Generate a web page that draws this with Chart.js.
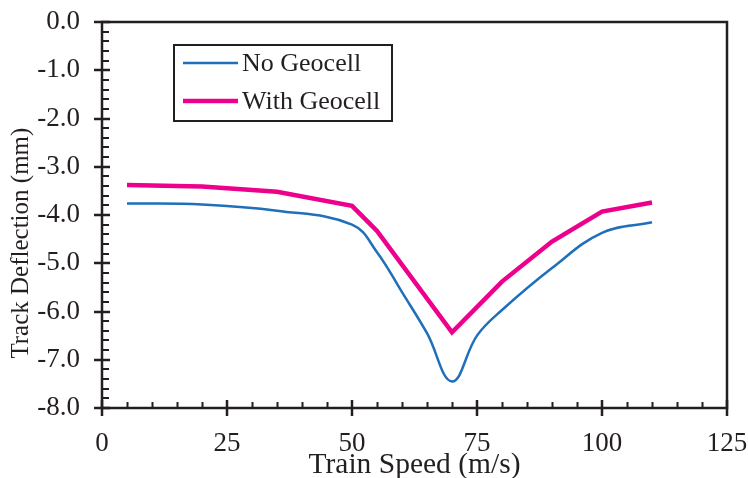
<!DOCTYPE html>
<html>
<head>
<meta charset="utf-8">
<script src="https://cdn.jsdelivr.net/npm/chart.js@4.4.0/dist/chart.umd.min.js"></script>
<style>
  html, body { margin: 0; padding: 0; background: #fff; }
  #wrap { width: 748px; height: 478px; }
</style>
</head>
<body>
<div id="wrap"><canvas id="grafico"></canvas></div>
<script>
// Dados
var nomeSem = "No Geocell";
var nomeCom = "With Geocell";
var velSem = [5, 20, 35, 50, 55, 60, 65, 70, 75, 80, 90, 100, 110];
var deflSem = [-3.76, -3.78, -3.91, -4.2, -4.77, -5.6, -6.45, -7.45, -6.5, -5.97, -5.1, -4.37, -4.15];
var velCom = [5, 20, 35, 50, 55, 70, 80, 90, 100, 110];
var deflCom = [-3.38, -3.41, -3.52, -3.81, -4.33, -6.43, -5.38, -4.55, -3.93, -3.74];
var xTicks = [0, 25, 50, 75, 100, 125];
var yTicks = [0, -1, -2, -3, -4, -5, -6, -7, -8];

var corSem = "#1f6fba";
var corCom = "#ec008c";
var corTexto = "#231f20";
var fonte = "'Liberation Serif', 'Times New Roman', serif";

function pares(xs, ys) {
	return xs.map(function (x, i) { return { x: x, y: ys[i] }; });
}

// Moldura, marcas de escala e legenda desenhadas por cima
var extras = {
	id: "extras",
	afterDraw: function (chart) {
		var ctx = chart.ctx;
		var a = chart.chartArea;
		var sx = chart.scales.x;
		var sy = chart.scales.y;
		ctx.save();
		ctx.strokeStyle = corTexto;

		// ticks menores
		ctx.lineWidth = 2;
		ctx.beginPath();
		for (var v = 5; v < 125; v += 5) {
			if (v % 25 == 0) continue;
			var px = Math.round(sx.getPixelForValue(v)) + 0.5;
			ctx.moveTo(px, a.bottom);
			ctx.lineTo(px, a.bottom - 6);
		}
		for (var k = 1; k < 40; k++) {
			if (k % 5 == 0) continue;
			var py = Math.round(sy.getPixelForValue(-k * 0.2));
			ctx.moveTo(a.left, py);
			ctx.lineTo(a.left + 7, py);
		}
		ctx.stroke();

		// ticks maiores (cruzando o eixo)
		ctx.lineWidth = 2.5;
		ctx.beginPath();
		xTicks.forEach(function (v) {
			var px = Math.round(sx.getPixelForValue(v));
			ctx.moveTo(px, a.bottom - 8);
			ctx.lineTo(px, a.bottom + 8);
		});
		yTicks.forEach(function (v) {
			var py = Math.round(sy.getPixelForValue(v));
			ctx.moveTo(a.left - 8, py);
			ctx.lineTo(a.left + 8, py);
		});
		ctx.stroke();

		// moldura
		ctx.lineWidth = 2.5;
		ctx.strokeRect(a.left, a.top, a.right - a.left, a.bottom - a.top);

		// legenda
		var lx = a.left + 72;
		var ly = a.top + 23;
		ctx.lineWidth = 2;
		ctx.strokeRect(lx, ly, 218, 76);
		ctx.font = "26px " + fonte;
		ctx.textBaseline = "middle";
		ctx.fillStyle = corTexto;
		chart.data.datasets.forEach(function (ds, i) {
			var y = ly + 18 + i * 38;
			ctx.strokeStyle = ds.borderColor;
			ctx.lineWidth = ds.borderWidth;
			ctx.beginPath();
			ctx.moveTo(lx + 9, y);
			ctx.lineTo(lx + 64, y);
			ctx.stroke();
			ctx.fillText(ds.label, lx + 68, y + 1);
		});
		ctx.restore();
	},
};

const dados = {
	datasets: [
		{
			label: nomeSem,
			data: pares(velSem, deflSem),
			borderColor: corSem,
			backgroundColor: corSem,
			borderWidth: 2.5,
			tension: 0.4,
			pointRadius: 0,
		},
		{
			label: nomeCom,
			data: pares(velCom, deflCom),
			borderColor: corCom,
			backgroundColor: corCom,
			borderWidth: 4.5,
			tension: 0,
			pointRadius: 0,
		},
	],
};

const config = {
	type: "line",
	data: dados,
	options: {
		responsive: true,
		maintainAspectRatio: false,
		animation: false,
		layout: { padding: { left: 0, right: 21, top: 22, bottom: 0 } },
		plugins: {
			legend: { display: false },
			tooltip: { enabled: false },
		},
		scales: {
			x: {
				type: "linear",
				min: 0,
				max: 125,
				grid: { display: false },
				border: { display: false },
				afterBuildTicks: function (s) {
					s.ticks = xTicks.map(function (v) { return { value: v }; });
				},
				afterFit: function (s) {
					s.height = 70;
					s.paddingLeft = 0;
					s.paddingRight = 0;
				},
				ticks: {
					color: corTexto,
					padding: 12,
					maxRotation: 0,
					font: { family: fonte, size: 27 },
				},
				title: {
					display: true,
					text: "Train Speed (m/s)",
					color: corTexto,
					padding: { top: 0, bottom: -5 },
					font: { family: fonte, size: 29.5 },
				},
			},
			y: {
				min: -8,
				max: 0,
				grid: { display: false },
				border: { display: false },
				afterBuildTicks: function (s) {
					s.ticks = yTicks.map(function (v) { return { value: v }; });
				},
				afterFit: function (s) {
					s.width = 102;
					s.paddingTop = 0;
					s.paddingBottom = 0;
				},
				ticks: {
					color: corTexto,
					padding: 14,
					font: { family: fonte, size: 27 },
					callback: function (v) { return v.toFixed(1); },
				},
				title: {
					display: true,
					// espaços no fim para baixar o título como no original
					text: "Track Deflection (mm)\u00a0\u00a0\u00a0\u00a0\u00a0\u00a0\u00a0\u00a0\u00a0",
					color: corTexto,
					padding: { top: 6, bottom: 0 },
					font: { family: fonte, size: 25 },
				},
			},
		},
	},
	plugins: [extras],
};

var grafico = new Chart(document.getElementById("grafico"), config);
</script>
</body>
</html>
